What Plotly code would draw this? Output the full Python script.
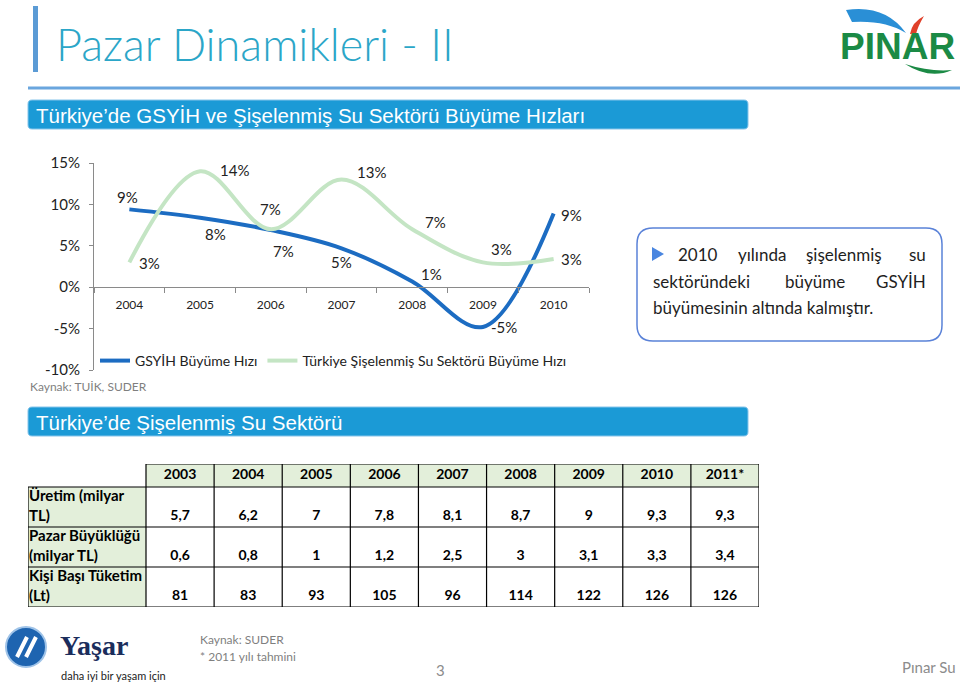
import plotly.graph_objects as go

# ---------------- data ----------------
YEARS = ["2004", "2005", "2006", "2007", "2008", "2009", "2010"]
GSYIH = [9.4, 8.4, 6.9, 4.7, 0.7, -4.8, 8.9]
SU = [3.0, 14.0, 7.0, 13.0, 7.0, 3.0, 3.4]
SERIES_NAMES = ["GSYİH Büyüme Hızı", "Türkiye Şişelenmiş Su Sektörü Büyüme Hızı"]
Y_TICKS = [-10, -5, 0, 5, 10, 15]
Y_TICK_LABELS = ["-10%", "-5%", "0%", "5%", "10%", "15%"]

TABLE_YEARS = ["2003", "2004", "2005", "2006", "2007", "2008", "2009", "2010", "2011*"]
ROW_LABELS = ["Üretim (milyar<br>TL)", "Pazar Büyüklüğü<br>(milyar TL)", "Kişi Başı Tüketim<br>(Lt)"]
URETIM = [5.7, 6.2, 7, 7.8, 8.1, 8.7, 9, 9.3, 9.3]
PAZAR = [0.6, 0.8, 1, 1.2, 2.5, 3, 3.1, 3.3, 3.4]
TUKETIM = [81, 83, 93, 105, 96, 114, 122, 126, 126]

# ---------------- styles / layout helpers ----------------
W, H = 960, 684
BLUE_LINE = "#1c6cc2"
GREEN_LINE = "#c4e5c4"
AXIS = "#8a8a8a"
FONT = "Lato"
GSYIH_DX = [-2, 15, 13, 0, 19, 21, 18]
GSYIH_DY = [-12, 16, 21, 14, -7, 0, 1]
SU_DX = [20, 34, 0, 30, 23, 19, 18]
SU_DY = [1, -1, -20, -8, -7, -13, 0]


def px(x):
    return x / W


def py(y):
    return 1 - y / H


def rrect(x0, y0, x1, y1, r):
    pts = [
        ("M", (x0 + r, y0)), ("L", (x1 - r, y0)), ("Q", (x1, y0), (x1, y0 + r)),
        ("L", (x1, y1 - r)), ("Q", (x1, y1), (x1 - r, y1)), ("L", (x0 + r, y1)),
        ("Q", (x0, y1), (x0, y1 - r)), ("L", (x0, y0 + r)), ("Q", (x0, y0), (x0 + r, y0)),
    ]
    s = ""
    for item in pts:
        coords = " ".join(f"{px(a):.5f},{py(b):.5f}" for a, b in item[1:])
        s += f"{item[0]} {coords} "
    return s + "Z"


def poly(points):
    return "M " + " L ".join(f"{px(a):.5f},{py(b):.5f}" for a, b in points) + " Z"


def fmt(v):
    if float(v).is_integer():
        return str(int(v))
    return str(v).replace(".", ",")


# chart geometry (pixels)
Y_TOP, Y_BOT = 163, 370
X_LEFT, X_RIGHT = 94, 589
yd = [py(Y_BOT), py(Y_TOP)]
y0_paper = yd[0] + (0 - (-10)) / 25 * (yd[1] - yd[0])

fig = go.Figure()
fig.add_trace(go.Scatter(
    x=YEARS, y=GSYIH, name=SERIES_NAMES[0], mode="lines", hoverinfo="skip",
    line=dict(color=BLUE_LINE, width=4, shape="spline", smoothing=1.0),
))
fig.add_trace(go.Scatter(
    x=YEARS, y=SU, name=SERIES_NAMES[1], mode="lines", hoverinfo="skip",
    line=dict(color=GREEN_LINE, width=4, shape="spline", smoothing=1.0),
))

annotations = []
for series, dxs, dys in ((GSYIH, GSYIH_DX, GSYIH_DY), (SU, SU_DX, SU_DY)):
    for i, (v, dx, dy) in enumerate(zip(series, dxs, dys)):
        annotations.append(dict(
            x=i, y=v, xref="x", yref="y", text=f"{round(v)}%", showarrow=False,
            xshift=dx, yshift=-dy, font=dict(family=FONT, size=15, color="#222222"),
        ))

# ---------------- table (hidden cartesian axes x2/y2, pixel-like units) ----------------
TX0, TX1, TY0, TY1 = 28, 759, 464, 607
FIRST_W = 118
COL_W = (TX1 - TX0 - FIRST_W) / len(TABLE_YEARS)
HEAD_H, ROW_H = 23, 40
col_edges = [0, FIRST_W] + [FIRST_W + COL_W * (k + 1) for k in range(len(TABLE_YEARS))]
col_centers = [FIRST_W + COL_W * (k + 0.5) for k in range(len(TABLE_YEARS))]
row_edges = [HEAD_H + ROW_H * k for k in range(4)]
TW = col_edges[-1]
TH = row_edges[-1]
TGREEN = "#e3efda"
TFONT = dict(family=FONT, size=14, color="black")

fig.add_trace(go.Scatter(
    x=col_centers, y=[HEAD_H / 2] * len(TABLE_YEARS), xaxis="x2", yaxis="y2",
    mode="text", text=[f"<b>{y}</b>" for y in TABLE_YEARS], textfont=TFONT,
    showlegend=False, hoverinfo="skip", cliponaxis=False,
))
for r, row in enumerate((URETIM, PAZAR, TUKETIM)):
    fig.add_trace(go.Scatter(
        x=col_centers, y=[row_edges[r + 1] - 11] * len(row), xaxis="x2", yaxis="y2",
        mode="text", text=[f"<b>{fmt(v)}</b>" for v in row], textfont=TFONT,
        showlegend=False, hoverinfo="skip", cliponaxis=False,
    ))
fig.add_trace(go.Scatter(
    x=[1] * 3, y=[row_edges[k] + 20 for k in range(3)], xaxis="x2", yaxis="y2",
    mode="text", text=[f"<b>{t}</b>" for t in ROW_LABELS], textposition="middle right",
    textfont=dict(family=FONT, size=15, color="black"), showlegend=False,
    hoverinfo="skip", cliponaxis=False,
))

tshapes = [
    dict(type="rect", xref="x2", yref="y2", x0=FIRST_W, x1=TW, y0=0, y1=HEAD_H,
         fillcolor=TGREEN, line=dict(width=0), layer="below"),
    dict(type="rect", xref="x2", yref="y2", x0=0, x1=FIRST_W, y0=HEAD_H, y1=TH,
         fillcolor=TGREEN, line=dict(width=0), layer="below"),
    dict(type="line", xref="x2", yref="y2", x0=FIRST_W, x1=TW, y0=0, y1=0,
         line=dict(color="black", width=1.2)),
]
for ye in row_edges:
    tshapes.append(dict(type="line", xref="x2", yref="y2", x0=0, x1=TW, y0=ye, y1=ye,
                        line=dict(color="black", width=1.2)))
tshapes.append(dict(type="line", xref="x2", yref="y2", x0=0, x1=0, y0=HEAD_H, y1=TH,
                    line=dict(color="black", width=1.2)))
for xe in col_edges[1:]:
    tshapes.append(dict(type="line", xref="x2", yref="y2", x0=xe, x1=xe, y0=0, y1=TH,
                        line=dict(color="black", width=1.2)))


# ---------------- slide text ----------------
def txt(x, y, text, size, color, family=FONT, xanchor="left", weight=None):
    f = dict(family=family, size=size, color=color)
    if weight:
        f["weight"] = weight
    annotations.append(dict(x=px(x), y=py(y), xref="paper", yref="paper", text=text,
                            showarrow=False, xanchor=xanchor, yanchor="middle", font=f))


txt(54, 44, "Pazar Dinamikleri - II", 45, "#2ba6c8", weight=300)
txt(34, 115, "Türkiye’de GSYİH ve Şişelenmiş Su Sektörü Büyüme Hızları", 20.5, "white", "Liberation Sans")
txt(34, 422, "Türkiye’de Şişelenmiş Su Sektörü", 20.5, "white", "Liberation Sans")
txt(28, 386, "Kaynak: TUİK, SUDER", 12, "#7f7f7f")

TB = 17
TC = "#1e1e1e"
txt(676, 254, "2010", TB, TC)
txt(762, 254, "yılında", TB, TC, xanchor="center")
txt(844, 254, "şişelenmiş", TB, TC, xanchor="center")
txt(928, 254, "su", TB, TC, xanchor="right")
txt(651, 281, "sektöründeki", TB, TC)
txt(815, 281, "büyüme", TB, TC, xanchor="center")
txt(928, 281, "GSYİH", TB, TC, xanchor="right")
txt(651, 308, "büyümesinin altında kalmıştır.", TB, TC)

txt(198, 639, "Kaynak: SUDER", 12, "#7f7f7f")
txt(198, 656, "* 2011 yılı tahmini", 12, "#7f7f7f")
txt(440, 670, "3", 15, "#8c8c8c", xanchor="center")
txt(958, 667, "Pınar Su", 15, "#8c8c8c", xanchor="right")
txt(58, 645, "<b>Yaşar</b>", 28, "#1b2d5c", "Liberation Serif")
txt(59, 675, "daha iyi bir yaşam için", 11, "#222222")
txt(838, 47, "<b>PINAR</b>", 37, "#1b8a45", "Liberation Sans")

shapes = [
    dict(type="rect", xref="paper", yref="paper", x0=px(33), x1=px(38), y0=py(72), y1=py(6),
         fillcolor="#5b9bd5", line=dict(width=0)),
    dict(type="line", xref="paper", yref="paper", x0=px(28), x1=px(960), y0=py(88), y1=py(88),
         line=dict(color="#6aa6de", width=3)),
    dict(type="path", xref="paper", yref="paper", path=rrect(28, 100, 748, 129, 4),
         fillcolor="#1b9ad6", line=dict(color="#86c4ea", width=1)),
    dict(type="path", xref="paper", yref="paper", path=rrect(28, 407, 748, 436, 4),
         fillcolor="#1b9ad6", line=dict(color="#86c4ea", width=1)),
    dict(type="path", xref="paper", yref="paper", path=rrect(637, 228, 942, 341, 16),
         fillcolor="rgba(0,0,0,0)", line=dict(color="#5a82d8", width=1.5)),
    dict(type="path", xref="paper", yref="paper", path=poly([(652, 247), (652, 261), (664, 254)]),
         fillcolor="#4a86e0", line=dict(width=0)),
    dict(type="path", xref="paper", yref="paper",
         path=f"M {px(846)},{py(10)} Q {px(885)},{py(4)} {px(906)},{py(33)} Q {px(885)},{py(20)} {px(852)},{py(22)} Z",
         fillcolor="#2a8fd6", line=dict(width=0)),
    dict(type="path", xref="paper", yref="paper",
         path=f"M {px(910)},{py(34)} Q {px(912)},{py(22)} {px(924)},{py(16)} Q {px(918)},{py(26)} {px(916)},{py(34)} Z",
         fillcolor="#e0402a", line=dict(width=0)),
    dict(type="path", xref="paper", yref="paper",
         path=f"M {px(905)},{py(64)} Q {px(930)},{py(80)} {px(952)},{py(70)} Q {px(930)},{py(72)} {px(905)},{py(64)} Z",
         fillcolor="#1b8a45", line=dict(width=0)),
    dict(type="circle", xref="paper", yref="paper", x0=px(6), x1=px(46), y0=py(667), y1=py(627),
         fillcolor="#1e64b0", line=dict(color="#9fc3e8", width=2)),
    dict(type="line", xref="paper", yref="paper", x0=px(17), x1=px(27), y0=py(657), y1=py(637),
         line=dict(color="white", width=4)),
    dict(type="line", xref="paper", yref="paper", x0=px(26), x1=px(36), y0=py(657), y1=py(637),
         line=dict(color="white", width=4)),
] + tshapes

fig.update_layout(
    width=W, height=H, margin=dict(l=0, r=0, t=0, b=0, pad=0, autoexpand=False),
    paper_bgcolor="white", plot_bgcolor="rgba(0,0,0,0)",
    font=dict(family=FONT, color="#222222"),
    xaxis=dict(
        domain=[px(X_LEFT), px(X_RIGHT)], anchor="free", position=y0_paper,
        type="category", range=[-0.5, 6.5], tickson="boundaries", ticks="outside",
        ticklen=5, tickcolor=AXIS, showline=True, linecolor=AXIS, linewidth=1,
        showgrid=False, zeroline=False, tickfont=dict(family=FONT, size=12, color="#222222"),
        ticklabelstandoff=6, fixedrange=True, automargin=False,
    ),
    yaxis=dict(
        domain=yd, range=[-10, 15], tickvals=Y_TICKS, ticktext=Y_TICK_LABELS,
        ticks="outside", ticklen=4, tickcolor=AXIS, showline=True, linecolor=AXIS,
        linewidth=1, showgrid=False, zeroline=False, ticklabelstandoff=6,
        tickfont=dict(family=FONT, size=15, color="#222222"), fixedrange=True,
        automargin=False,
    ),
    xaxis2=dict(domain=[px(TX0), px(TX1)], range=[0, TW], visible=False, anchor="y2",
                fixedrange=True, automargin=False),
    yaxis2=dict(domain=[py(TY1), py(TY0)], range=[TH, 0], visible=False, anchor="x2",
                fixedrange=True, automargin=False),
    showlegend=True,
    legend=dict(orientation="h", x=px(95), y=py(361), xanchor="left", yanchor="middle",
                font=dict(family=FONT, size=14, color="#222222"), bgcolor="rgba(0,0,0,0)",
                itemwidth=30),
    annotations=annotations,
    shapes=shapes,
)

fig.write_html("out.html", config={"displayModeBar": False},
               post_script="document.body.style.margin='0';document.body.style.overflow='hidden';")
